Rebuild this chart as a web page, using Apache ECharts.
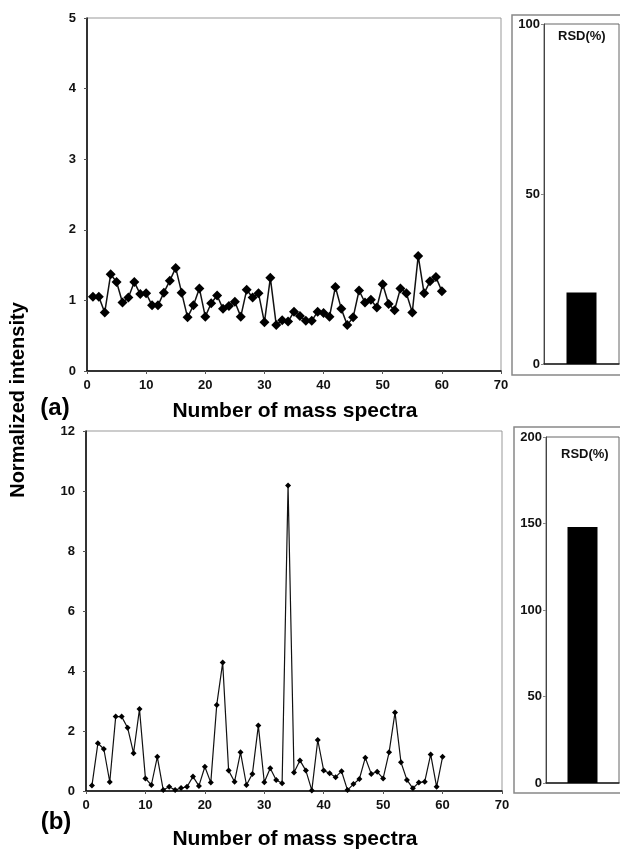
<!DOCTYPE html>
<html><head><meta charset="utf-8">
<script src="https://cdn.jsdelivr.net/npm/echarts@6/dist/echarts.min.js"></script>
<style>html,body{margin:0;padding:0;background:#fff}#c{width:620px;height:850px}</style>
</head><body><div id="c"></div>
<script>
const spectrumIndex = Array.from({length: 60}, (_, i) => i + 1);
const intensityA = [1.05,1.05,0.83,1.37,1.26,0.97,1.04,1.26,1.09,1.10,0.93,0.93,1.11,1.28,1.46,1.11,0.76,0.93,1.17,0.77,
  0.96,1.07,0.88,0.92,0.98,0.77,1.15,1.04,1.10,0.69,1.32,0.65,0.72,0.70,0.84,0.78,0.71,0.71,0.84,0.82,
  0.77,1.19,0.88,0.65,0.76,1.14,0.97,1.01,0.90,1.23,0.95,0.86,1.17,1.10,0.83,1.63,1.10,1.27,1.33,1.13];
const intensityB = [0.18,1.59,1.40,0.30,2.48,2.48,2.11,1.26,2.73,0.42,0.20,1.14,0.03,0.14,0.03,0.10,0.14,0.48,0.17,0.81,
  0.28,2.87,4.28,0.68,0.31,1.29,0.20,0.57,2.18,0.29,0.76,0.37,0.26,10.18,0.62,1.02,0.68,0.02,1.70,0.68,
  0.59,0.46,0.66,0.03,0.23,0.40,1.11,0.57,0.64,0.42,1.29,2.62,0.96,0.37,0.09,0.28,0.31,1.22,0.14,1.14];
const rsdA = [21];
const rsdB = [148];
const xTicks = [0,10,20,30,40,50,60,70];

const F = 'Liberation Sans, Arial, sans-serif';
const lbl = {fontFamily: F, fontWeight: 'bold', fontSize: 13, color: '#111'};
const chart = echarts.init(document.getElementById('c'), null, {renderer: 'canvas'});

function mainX(gi) {
  return {gridIndex: gi, type: 'value', min: xTicks[0], max: xTicks[xTicks.length - 1], interval: xTicks[1] - xTicks[0],
    axisLine: {show: true, onZero: false, lineStyle: {color: '#000', width: 1.5}},
    axisTick: {show: true, length: 3, lineStyle: {color: '#555'}},
    axisLabel: Object.assign({margin: 8}, lbl), splitLine: {show: false}};
}
function mainY(gi, max, iv) {
  return {gridIndex: gi, type: 'value', min: 0, max: max, interval: iv,
    axisLine: {show: true, lineStyle: {color: '#000', width: 1.5}},
    axisTick: {show: true, length: 3, lineStyle: {color: '#555'}},
    axisLabel: Object.assign({margin: 11}, lbl), splitLine: {show: false}};
}
function rsdX(gi) {
  return {gridIndex: gi, type: 'category', data: ['RSD'],
    axisLine: {show: true, lineStyle: {color: '#222', width: 1.5}},
    axisTick: {show: false}, axisLabel: {show: false}};
}
function rsdY(gi, max, iv) {
  return {gridIndex: gi, type: 'value', min: 0, max: max, interval: iv,
    axisLine: {show: true, lineStyle: {color: '#444', width: 1}},
    axisTick: {show: true, length: 3, lineStyle: {color: '#888'}},
    axisLabel: Object.assign({margin: 4}, lbl), splitLine: {show: false}};
}

chart.setOption({
  animation: false,
  backgroundColor: '#fff',
  grid: [
    {left: 87, top: 18, width: 414, height: 353, show: true, borderColor: '#999', borderWidth: 1},
    {left: 544, top: 24, width: 75, height: 340, show: true, borderColor: '#666', borderWidth: 1},
    {left: 86, top: 431, width: 416, height: 360, show: true, borderColor: '#999', borderWidth: 1},
    {left: 546, top: 437, width: 73, height: 346, show: true, borderColor: '#666', borderWidth: 1}
  ],
  xAxis: [mainX(0), rsdX(1), mainX(2), rsdX(3)],
  yAxis: [mainY(0, 5, 1), rsdY(1, 100, 50), mainY(2, 12, 2), rsdY(3, 200, 50)],
  series: [
    {type: 'line', xAxisIndex: 0, yAxisIndex: 0, data: spectrumIndex.map((x, i) => [x, intensityA[i]]),
      symbol: 'diamond', symbolSize: 10, itemStyle: {color: '#000'}, lineStyle: {color: '#111', width: 1.5}},
    {type: 'bar', xAxisIndex: 1, yAxisIndex: 1, data: rsdA, barWidth: 30, itemStyle: {color: '#000'}},
    {type: 'line', xAxisIndex: 2, yAxisIndex: 2, data: spectrumIndex.map((x, i) => [x, intensityB[i]]),
      symbol: 'diamond', symbolSize: 6, itemStyle: {color: '#000'}, lineStyle: {color: '#111', width: 1.2}},
    {type: 'bar', xAxisIndex: 3, yAxisIndex: 3, data: rsdB, barWidth: 30, itemStyle: {color: '#000'}}
  ],
  graphic: [
    {type: 'rect', shape: {x: 512, y: 15, width: 120, height: 360}, style: {fill: 'none', stroke: '#888', lineWidth: 1.5}},
    {type: 'rect', shape: {x: 514, y: 427, width: 120, height: 366}, style: {fill: 'none', stroke: '#888', lineWidth: 1.5}},
    {type: 'text', left: 558, top: 30, style: {text: 'RSD(%)', font: 'bold 13px ' + F, fill: '#111'}},
    {type: 'text', left: 561, top: 448, style: {text: 'RSD(%)', font: 'bold 13px ' + F, fill: '#111'}},
    {type: 'text', x: 295, y: 411, style: {text: 'Number of mass spectra', font: 'bold 21px ' + F, fill: '#000', textAlign: 'center', textVerticalAlign: 'middle'}},
    {type: 'text', x: 295, y: 839, style: {text: 'Number of mass spectra', font: 'bold 21px ' + F, fill: '#000', textAlign: 'center', textVerticalAlign: 'middle'}},
    {type: 'text', x: 55, y: 408, style: {text: '(a)', font: 'bold 24px ' + F, fill: '#000', textAlign: 'center', textVerticalAlign: 'middle'}},
    {type: 'text', x: 56, y: 822, style: {text: '(b)', font: 'bold 24px ' + F, fill: '#000', textAlign: 'center', textVerticalAlign: 'middle'}},
    {type: 'text', x: 18, y: 400, rotation: Math.PI / 2, style: {text: 'Normalized intensity', font: 'bold 20px ' + F, fill: '#000', textAlign: 'center', textVerticalAlign: 'middle'}}
  ]
});
</script></body></html>
